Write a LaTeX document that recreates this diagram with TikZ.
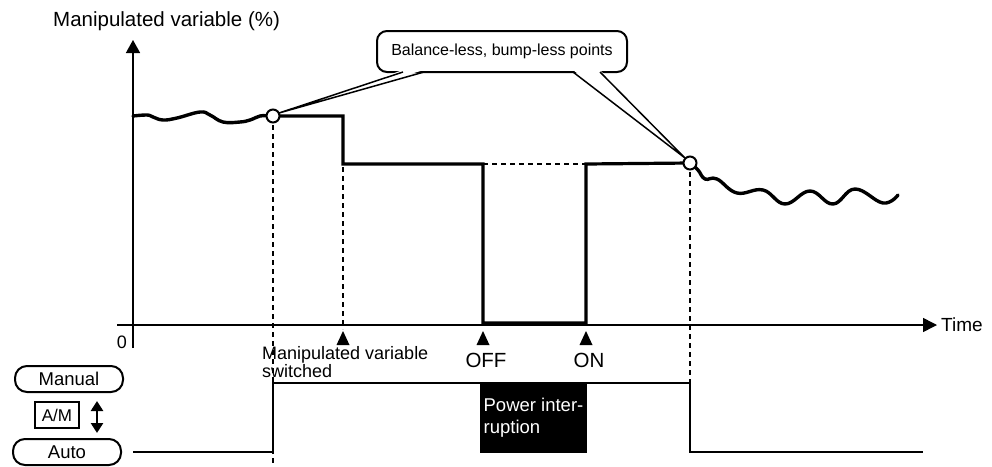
\documentclass[tikz,border=0pt]{standalone}
\usepackage{fontspec}
\setmainfont{Liberation Sans}
\usetikzlibrary{arrows.meta,positioning}

\tikzset{
  axisline/.style={line width=1.5pt},
  trace/.style={line width=3.2pt},
  wave/.style={line width=3.4pt, line cap=round},
  guide/.style={line width=1.2pt, dash pattern=on 5pt off 4pt},
  pill/.style={draw, line width=2pt, rounded corners=12pt, minimum width=108pt,
    minimum height=26pt, inner sep=0pt, font=\fontsize{18.5}{22}\selectfont},
  joint/.style={circle, draw, fill=white, line width=2pt, minimum size=13pt, inner sep=0pt},
  evtri/.style={fill=black},
}

\begin{document}
\begin{tikzpicture}[x=1pt, y=-1pt]
    \useasboundingbox (0,0) rectangle (992,466);

    % Axes
    \draw[axisline,-{Triangle[length=13pt,width=14pt]}] (133,348) -- (133,40);
    \draw[axisline,-{Triangle[length=14pt,width=14pt]}] (117,325) -- (937,325);
    \node[anchor=base west, inner sep=0pt, font=\fontsize{20.5}{24}\selectfont] (ylabel) at (53,26) {Manipulated variable (\%)};
    \node[anchor=base west, inner sep=0pt, font=\fontsize{19}{22}\selectfont] (xlabel) at (941,331) {Time};
    \node[anchor=base, inner sep=0pt, font=\fontsize{18}{20}\selectfont] (origin) at (122,348) {0};

    % Callout
    \node[draw, line width=2pt, rounded corners=10pt, minimum width=250pt, minimum height=41pt,
      inner sep=0pt, font=\fontsize{16}{18}\selectfont] (note) at (502,51.5) {Balance-less, bump-less points};
    \coordinate (sw1) at (273,116);
    \coordinate (sw2) at (690,163);
    \fill[white] (403,70) -- (279,113) -- (424,70) -- cycle;
    \fill[white] (573,70) -- (685,158) -- (600,70) -- cycle;
    \draw[line width=1.5pt] (403,72) -- (279,113) -- (424,72);
    \draw[line width=1.5pt] (573,72) -- (685,158) -- (600,72);

    % Guides
    \draw[guide] (sw1) -- (273,466);
    \draw[guide] (343,167) -- (343,329);
    \draw[guide] (sw2) -- (690,383);
    \draw[line width=1.2pt, dash pattern=on 5pt off 4pt] (483,164) -- (586,164);

    % Manipulated variable
    \draw[wave] plot[smooth, tension=0.7] coordinates {(133,116) (147,115) (153,117) (163,120)
      (177,118) (200,112) (210,115) (223,122) (240,122) (250,120) (260,116) (268,116)};
    \draw[trace] (sw1) -- (343,116) -- (343,164) -- (483,164) -- (483,323)
      -- (586,323) -- (586,164) -- (sw2);
    \draw[wave] plot[smooth, tension=0.7] coordinates {(691,164) (698,170) (705,179) (717,179)
      (737,193) (763,190) (785,204) (810,191) (833,204) (855,189) (883,203) (898,195)};
    \node[joint] (c1) at (sw1) {};
    \node[joint] (c2) at (sw2) {};

    % Events
    \foreach \ex in {343,483,586}
      \fill[evtri] (\ex,331) -- (\ex+6.5,345) -- (\ex-6.5,345) -- cycle;
    \node[anchor=north west, inner sep=0pt, align=left, font=\fontsize{18}{18}\selectfont] (switch) at (262,346)
      {Manipulated variable\\switched};
    \node[anchor=base, inner sep=0pt, font=\fontsize{20.5}{24}\selectfont] (off) at (486,367) {OFF};
    \node[anchor=base, inner sep=0pt, font=\fontsize{20.5}{24}\selectfont] (on) at (589,367) {ON};

    % Auto / manual
    \draw[line width=2pt] (133,452) -- (273,452) -- (273,383) -- (690,383) -- (690,452) -- (923,452);
    \node[fill=black, minimum width=107pt, minimum height=70pt, inner sep=2pt,
      align=left, text=white, font=\fontsize{18.5}{22}\selectfont] (outage) at (533.5,418) {Power inter-\\ruption};
    \node[pill] (manual) at (69,379) {Manual};
    \node[pill] (auto) at (67,452) {Auto};
    \node[draw, line width=1.5pt, minimum width=44pt, minimum height=26pt, inner sep=0pt,
      font=\fontsize{17}{20}\selectfont] (am) at (57,415) {A/M};
    \draw[line width=2.5pt, {Triangle[length=10pt,width=12pt]}-{Triangle[length=10pt,width=12pt]}] (97,401) -- (97,433);
\end{tikzpicture}
\end{document}
